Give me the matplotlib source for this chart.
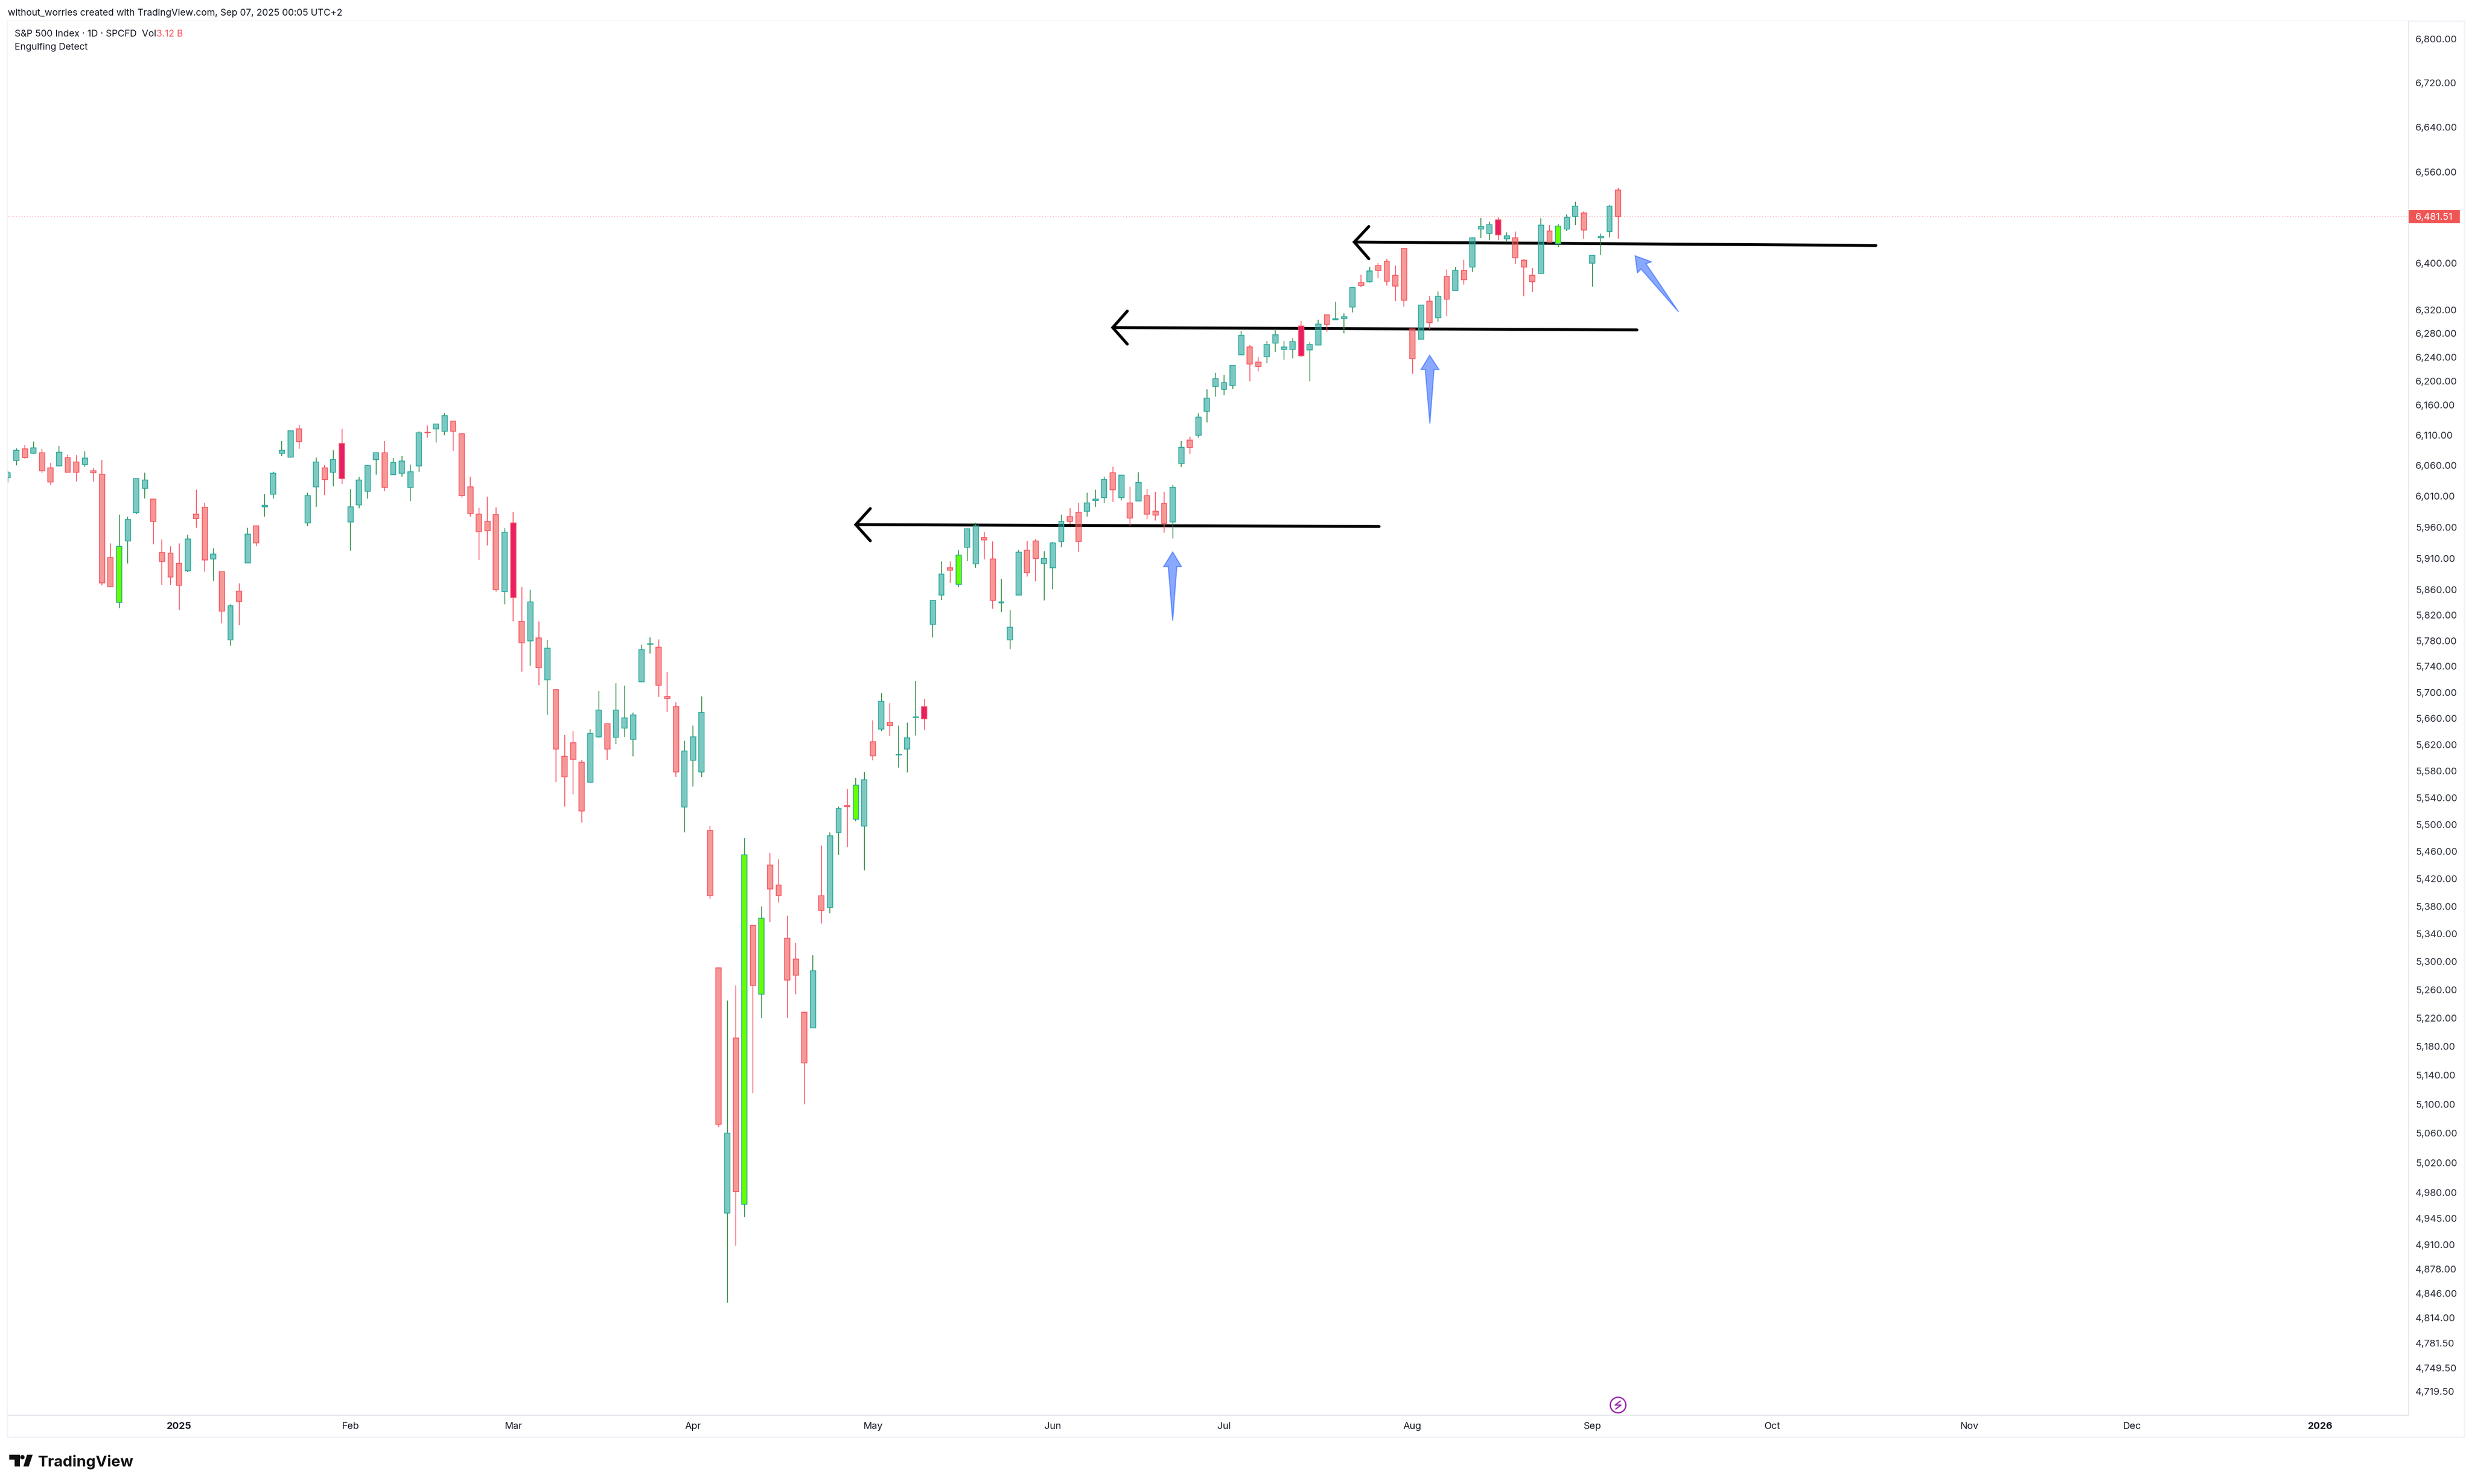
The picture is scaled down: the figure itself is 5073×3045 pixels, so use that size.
import matplotlib
matplotlib.use('Agg')
import matplotlib.pyplot as plt
from matplotlib.colors import to_rgba
from matplotlib.lines import Line2D
from matplotlib.patches import Circle, Polygon, Rectangle

plt.rcParams['font.family'] = ['Inter', 'DejaVu Sans']

W, H = 5073, 3045

opens = [6040,6068,6087,6080,6081,6056,6059,6073,6066,6062,
         6051,6046,5911,5840,5938,5983,6023,6005,5919,5918,
         5902,5890,5981,5992,5909,5889,5781,5858,5903,5962,
         5993,6013,6080,6074,6120,5967,6025,6056,6049,6096,
         5968,5996,6018,6070,6081,6045,6047,6024,6059,6114.5,
         6120,6116,6133,6112,6025,5981,5969,5980,5857,5967,
         5810,5780,5784,5719,5704,5602,5623,5593,5563,5632,
         5652,5631,5645,5628,5716,5774.5,5770,5694,5678,5526,
         5596,5579,5491,5291,4952,5192,4964,5352,5254,5440,
         5411,5334,5304,5228,5206,5395,5378,5488,5528,5508,
         5498,5624,5644,5654,5604.5,5613,5661.5,5678,5806,5852,
         5895,5869,5928,5901,5943,5909,5839.5,5781,5852,5923,
         5938,5902,5895,5937,5977,5984,5986,6003,6008,6048,
         6008,5999,6002,6011,5986,5998,5968,6063,6102,6110,
         6149,6191,6186,6192,6244,6257,6232,6241,6264,6253,
         6253,6293,6252,6260,6312,6303,6305,6325,6367,6368,
         6396,6404,6379,6426,6288,6270,6335,6307,6378,6353,
         6388,6394,6460,6452,6476,6443,6444,6405,6379,6383,
         6456,6434,6460,6482,6488,6400,6444,6455,6528]
highs = [6051,6088,6094,6099,6087,6064,6092,6078,6077,6083,
         6056,6069,5934,5980,5977,6039,6048,6005,5940,5929,
         5934,5948,6020,5999,5926,5889,5837,5870,5959,5963,
         6013,6050,6100,6117,6127,6016,6073,6061,6085,6120,
         6021,6041,6061,6082,6100,6072,6075,6062,6116,6126,
         6128,6146,6133,6112,6042,5991,6009,5992,5958,5985,
         5864,5860,5810,5781,5704,5635,5641,5597,5644,5702,
         5652,5714,5710,5669,5774,5785,5782,5731,5685,5626,
         5649,5694,5498,5291,5245,5266,5480,5352,5380,5458,
         5449,5366,5327,5228,5309,5469,5488,5527,5553,5570,
         5579,5657,5699,5683,5649,5653,5718,5690,5844,5905,
         5905,5923,5958,5967,5952,5937,5877,5828,5923,5938,
         5941,5921,5936,5980,5990,5999,6016,6020,6042,6058,
         6045,6025,6049,6022,6017,6017,6028,6100,6107,6146,
         6186,6214,6210,6226,6284,6260,6241,6267,6288,6267,
         6272,6301,6265,6303,6312,6334,6314,6359,6380,6394,
         6400,6408,6396,6426,6288,6329,6344,6352,6389,6394,
         6406,6445,6479,6472,6480,6454,6455,6407,6392,6478,
         6466,6468,6485,6507,6490,6415,6452,6501,6532]
lows = [6032,6060,6071,6079,6048,6028,6059,6049,6034,6058,
        6034,5867,5865,5831,5902,5981,6006,5932,5868,5868,
        5828,5888,5959,5889,5874,5807,5772,5804,5903,5929,
        5977,6006,6075,6073,6087,5962,5993,6012,6026,6030,
        5922,5990,6006,6045,6018,6044,6042,6002,6050,6106,
        6098,6110,6084,6008,5977,5907,5931,5857,5837,5810,
        5732,5741,5711,5665,5563,5527,5545,5503,5563,5630,
        5597,5621,5632,5602,5716,5760,5693,5670,5571,5488,
        5557,5571,5390,5068,4834,4909,4947,5115,5220,5357,
        5385,5220,5254,5100,5206,5355,5370,5455,5467,5505,
        5432,5596,5641,5633,5585,5578,5634,5642,5785,5844,
        5871,5864,5906,5895,5908,5830,5825,5767,5852,5881,
        5873,5843,5861,5928,5965,5920,5977,5993,5999,6001,
        6003,5962,6002,5973,5971,5951,5942,6058,6079,6106,
        6131,6174,6176,6187,6244,6200,6216,6230,6249,6236,
        6238,6240,6200,6260,6283,6303,6280,6316,6359,6367,
        6374,6362,6335,6326,6212,6270,6288,6300,6309,6353,
        6363,6385,6444,6440,6440,6437,6399,6343,6351,6383,
        6437,6428,6456,6466,6443,6360,6415,6445,6443]
closes = [6048,6085,6073,6089,6051,6033,6082,6049,6049,6072,
          6048,5871,5865,5929,5972,6039,6036,5969,5905,5880,
          5867,5941,5974,5907,5917,5826,5835,5842,5949,5935,
          5995,6047,6085,6117,6099,6011,6066,6037,6070,6039,
          5993,6036,6060,6081,6024,6065,6067,6050,6114,6113.5,
          6128,6142,6116,6011,5982,5953,5954,5860,5952,5848,
          5777,5841,5738,5768,5613,5571,5598,5520,5637,5673,
          5613,5673,5661,5665,5766,5775.5,5711,5691,5579,5610,
          5632,5669,5395,5072,5060,4981,5455,5266,5363,5405,
          5395,5274,5281,5157,5287,5374,5483,5524,5527,5559,
          5567,5603,5686,5649,5605.5,5630,5662.5,5659,5843,5885,
          5891,5915,5957,5962,5939,5843,5840.5,5801,5920,5887,
          5910,5910,5935,5969,5969,5937,5999,6005,6037,6020,
          6044,5975,6032,5981,5979,5966,6024,6090,6090,6140,
          6171,6204,6197,6226,6277,6228,6224,6261,6278,6257,
          6266,6242,6261,6296,6295,6305,6308,6358,6362,6387,
          6388,6369,6361,6337,6237,6328,6298,6343,6338,6388,
          6372,6444,6464,6467,6449,6448,6410,6394,6368,6466,
          6437,6465,6480,6500,6458,6414,6447,6500,6481.51]

# bars flagged by the engulfing indicator
bull_engulf = [13, 86, 88, 99, 111, 181]
bear_engulf = [39, 59, 107, 151, 174]

last_price = 6481.51

price_ticks = [6800, 6720, 6640, 6560, 6400, 6320, 6280, 6240, 6200, 6160, 6110, 6060,
               6010, 5960, 5910, 5860, 5820, 5780, 5740, 5700, 5660, 5620, 5580, 5540,
               5500, 5460, 5420, 5380, 5340, 5300, 5260, 5220, 5180, 5140, 5100, 5060,
               5020, 4980, 4945, 4910, 4878, 4846, 4814, 4781.5, 4749.5, 4719.5]
time_ticks = [20, 40, 59, 80, 101, 122, 142, 164, 185, 206, 229, 248, 270]
time_labels = ['2025', 'Feb', 'Mar', 'Apr', 'May', 'Jun', 'Jul', 'Aug', 'Sep', 'Oct', 'Nov', 'Dec', '2026']

# hand drawn levels: bar index, price
level_x = [(99.0, 160.1), (129.0, 190.2), (157.2, 218.1)]
level_y = [(5964, 5961), (6290, 6286), (6437, 6431)]
chevron_x = [100.7, 130.7, 158.9]
chevron_up = [5990, 6318, 6464]
chevron_down = [5938, 6262, 6408]

# blue arrows: tip in bar index / price, outline in pixels from the tip
arrow_tips = [(136.0, 5920), (166.0, 6243), (190.0, 6413)]
arrow_shapes = [
    [(0, 0), (18, 30), (8.5, 30), (0, 141), (-9, 30), (-18.5, 30)],
    [(0, 0), (19, 29), (9, 29), (0.5, 140), (-9, 29), (-17.5, 29)],
    [(0, 0), (33.5, 12.3), (22, 16), (89, 115), (12, 27), (4.5, 35)],
]

TEXT = '#131722'
UP = '#26A69A'
DOWN = '#EF5350'
UP_WICK = '#2E8B3F'
DOWN_WICK = '#F7525F'
LINE = '#E0E3EB'
FRAME = '#F0F3FA'
TICK_SIZE = 14.3
HEAD_SIZE = 13.8


def fx(x):
    return x / W


def fy(y):
    return 1 - y / H


fig = plt.figure(figsize=(W / 100, H / 100), dpi=100, facecolor='white')
ax = fig.add_axes([fx(16), fy(2904), fx(4943 - 16), (2904 - 43) / H])
ax.set_yscale('log')
ax.set_xlim(0, 280.3)
ax.set_ylim(4689, 6833)

# candles
for i in range(len(opens)):
    o, h, l, c = opens[i], highs[i], lows[i], closes[i]
    up = c >= o
    top, bottom = max(o, c), min(o, c)
    wick = UP_WICK if up else DOWN_WICK
    ax.vlines(i, top, h, color=wick, lw=1.2, zorder=2, snap=True)
    ax.vlines(i, l, bottom, color=wick, lw=1.2, zorder=2, snap=True)
    if i in bull_engulf:
        face, edge = '#66FF00', UP
    elif i in bear_engulf:
        face, edge = '#E91E63', DOWN_WICK
    elif up:
        face, edge = to_rgba(UP, 0.6), UP
    else:
        face, edge = to_rgba(DOWN, 0.6), DOWN_WICK
    ax.bar(i, top - bottom, bottom=bottom, width=0.62, facecolor=face, edgecolor=edge,
           linewidth=1.15, zorder=3)

# last price line
ax.axhline(last_price, color=DOWN_WICK, lw=1.0, ls=(0, (1, 3)), alpha=0.7, zorder=1)

# levels with open arrow heads
for k in range(len(level_x)):
    ax.plot(level_x[k], level_y[k], color='black', lw=4.3, solid_capstyle='round', zorder=1.5)
    ax.plot([chevron_x[k], level_x[k][0], chevron_x[k]],
            [chevron_up[k], level_y[k][0], chevron_down[k]],
            color='black', lw=4.3, solid_capstyle='round', solid_joinstyle='miter', zorder=4)

ax.set_yticks(price_ticks, labels=[f'{v:,.2f}' for v in price_ticks])
ax.minorticks_off()
ax.yaxis.tick_right()
ax.tick_params(axis='y', length=0, pad=10, labelsize=TICK_SIZE, labelcolor='#2A2E39')
ax.set_xticks(time_ticks, labels=time_labels)
ax.tick_params(axis='x', length=0, pad=10, labelsize=TICK_SIZE, labelcolor=TEXT)
for lab in ax.get_xticklabels():
    if lab.get_text() in ('2025', '2026'):
        lab.set_fontweight('bold')

for side in ('top', 'left'):
    ax.spines[side].set_visible(False)
for side in ('right', 'bottom'):
    ax.spines[side].set_color(LINE)
    ax.spines[side].set_linewidth(1.2)

# blue arrows
for tip, shape in zip(arrow_tips, arrow_shapes):
    px, py = ax.transData.transform(tip)
    pts = [((px + dx) / W, (py - dy) / H) for dx, dy in shape]
    fig.add_artist(Polygon(pts, closed=True, transform=fig.transFigure,
                           facecolor=to_rgba('#2962FF', 0.55), edgecolor=to_rgba('#2962FF', 0.6),
                           linewidth=1.6, zorder=5))

# outer frame
fig.add_artist(Rectangle((fx(15), fy(2949)), fx(5057 - 15), (2949 - 43) / H, transform=fig.transFigure,
                         fill=False, edgecolor=FRAME, linewidth=2.2, zorder=0))

# last price tag
tag_y = ax.transData.transform((0, last_price))[1]
fig.add_artist(Rectangle((fx(4943), (tag_y - 13.5) / H), fx(105), 27 / H, transform=fig.transFigure,
                         facecolor='#F05555', edgecolor='none', zorder=6))
fig.text(fx(4957), tag_y / H, f'{last_price:,.2f}', color='white', fontsize=TICK_SIZE,
         va='center_baseline', ha='left', zorder=7)

# header texts
fig.text(fx(16), fy(25), 'without_worries created with TradingView.com, Sep 07, 2025 00:05 UTC+2',
         color=TEXT, fontsize=HEAD_SIZE, va='center_baseline', ha='left')
fig.text(fx(30), fy(68), 'S&P 500 Index · 1D · SPCFD  Vol', color=TEXT, fontsize=HEAD_SIZE,
         va='center_baseline', ha='left')
fig.text(fx(321), fy(68), '3.12 B', color='#F7525F', fontsize=HEAD_SIZE, va='center_baseline', ha='left')
fig.text(fx(30), fy(95), 'Engulfing Detect', color=TEXT, fontsize=HEAD_SIZE, va='center_baseline', ha='left')

# purple event marker on the last bar
ev_x = ax.transData.transform((188, last_price))[0]
ev_y = H - 2883
fig.add_artist(Circle((ev_x, ev_y), 16, transform=None, fill=False, edgecolor='#9C27B0', linewidth=2.0, zorder=6))
fig.add_artist(Line2D([ev_x + 4.5, ev_x - 6, ev_x + 6, ev_x - 4.5], [ev_y + 8, ev_y, ev_y, ev_y - 8],
                      transform=None, color='#9C27B0', lw=1.8, zorder=6))

# logo
logo = '#111111'
fig.add_artist(Polygon([(fx(19), fy(2985)), (fx(41), fy(2985)), (fx(41), fy(3009)), (fx(30), fy(3009)),
                        (fx(30), fy(2995)), (fx(19), fy(2995))],
                       closed=True, transform=fig.transFigure, facecolor=logo, edgecolor='none'))
fig.add_artist(Circle((46, H - 2990), 4.5, transform=None, facecolor=logo, edgecolor='none'))
fig.add_artist(Polygon([(fx(55.5), fy(2985)), (fx(67), fy(2985)), (fx(59), fy(3009)), (fx(48), fy(3009))],
                       closed=True, transform=fig.transFigure, facecolor=logo, edgecolor='none'))
fig.text(fx(78), fy(3009), 'TradingView', color=logo, fontsize=22.5, fontweight='bold', va='baseline', ha='left')

fig.savefig('out.png', dpi=100)
